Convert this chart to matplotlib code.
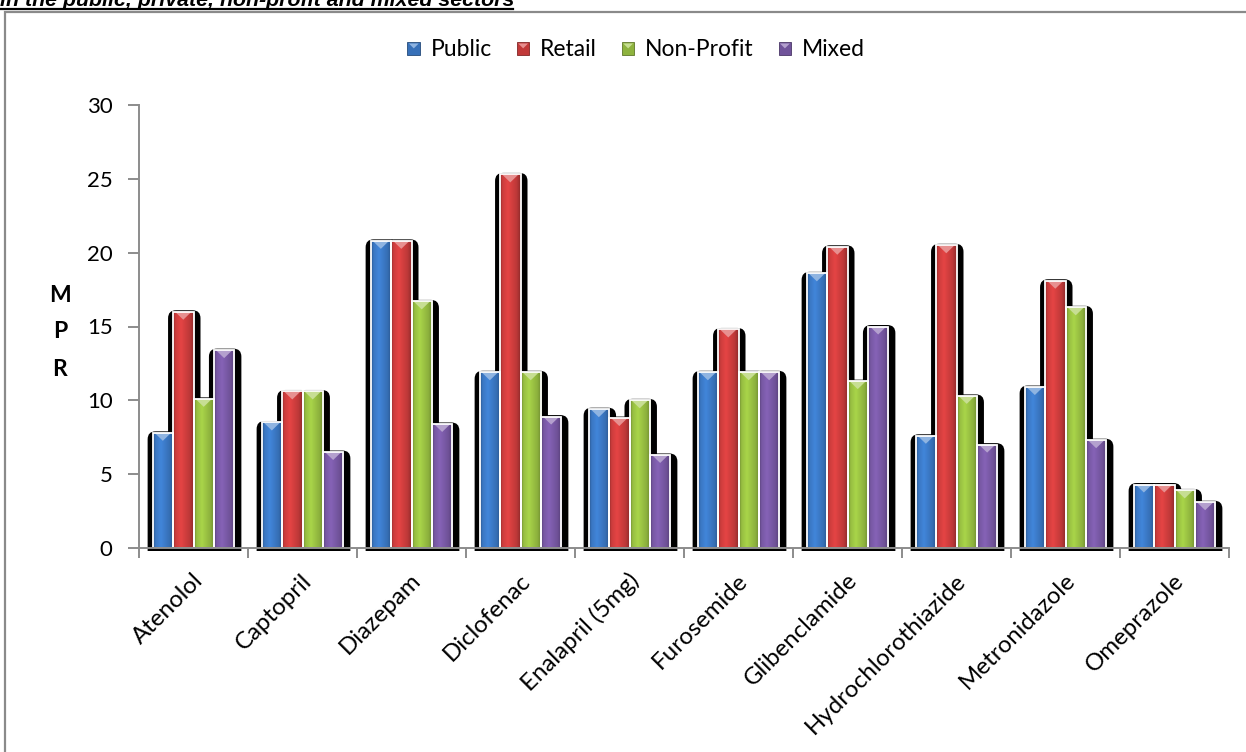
import numpy as np
import matplotlib
matplotlib.use("Agg")
import matplotlib.pyplot as plt
from matplotlib.patches import FancyBboxPatch, Rectangle, Polygon, Patch
from matplotlib.lines import Line2D
from matplotlib.legend_handler import HandlerBase
from matplotlib.transforms import ScaledTranslation

# ---- data -----------------------------------------------------------------
drugs = ["Atenolol", "Captopril", "Diazepam", "Diclofenac", "Enalapril (5mg)",
         "Furosemide", "Glibenclamide", "Hydrochlorothiazide", "Metronidazole",
         "Omeprazole"]
public = [7.8, 8.5, 20.8, 11.9, 9.4, 11.9, 18.6, 7.6, 10.9, 4.3]
retail = [16.0, 10.6, 20.8, 25.3, 8.8, 14.8, 20.4, 20.5, 18.1, 4.3]
non_profit = [10.1, 10.6, 16.7, 11.9, 10.0, 11.9, 11.3, 10.3, 16.3, 3.9]
mixed = [13.4, 6.5, 8.4, 8.9, 6.3, 11.9, 15.0, 7.0, 7.3, 3.1]
sectors = ["Public", "Retail", "Non-Profit", "Mixed"]
y_ticks = [0, 5, 10, 15, 20, 25, 30]
title = "in the public, private, non-profit and mixed sectors"

series = [public, retail, non_profit, mixed]
base_colors = [(0.24, 0.49, 0.80), (0.84, 0.25, 0.25),
               (0.62, 0.78, 0.27), (0.49, 0.36, 0.67)]

FONT = "Lato"
W, H = 1246, 752

fig = plt.figure(figsize=(W / 100, H / 100), dpi=100)
fig.patch.set_facecolor("white")

ax_left, ax_right, ax_top, ax_bottom = 139, 1229, 105, 548
ax = fig.add_axes([ax_left / W, 1 - ax_bottom / H,
                   (ax_right - ax_left) / W, (ax_bottom - ax_top) / H])
ax.set_xlim(-0.5, len(drugs) - 0.5)
ax.set_ylim(0, 30)

px_x = (len(drugs)) / (ax_right - ax_left)   # data x per pixel
px_y = 30 / (ax_bottom - ax_top)             # data y per pixel

group_w = 0.75
bar_w = group_w / len(series)


def shade(rgb, f):
    return tuple(min(1.0, c * f) for c in rgb)


def lighten(rgb, a):
    return tuple(c + (1 - c) * a for c in rgb)


# horizontal shading profile of a bevelled column
prof_x = np.array([0.0, 0.12, 0.38, 0.8, 1.0])
prof_f = np.array([0.68, 0.95, 1.07, 0.88, 0.66])
xs = np.linspace(0, 1, 80)
fac = np.interp(xs, prof_x, prof_f)

shadow_clip = Rectangle((-0.5, -0.18), len(drugs), 40, transform=ax.transData)

# shadows first so that every bar sits above all of them
for si, vals in enumerate(series):
    for ci, v in enumerate(vals):
        x0 = ci - group_w / 2 + si * bar_w
        sx0 = x0 - 5 * px_x
        sw = bar_w + 12 * px_x
        top = v + 1.5 * px_y
        sh = FancyBboxPatch((sx0, -1.0), sw, top + 1.0,
                            boxstyle="round,pad=0,rounding_size=%f" % (8 * px_x),
                            mutation_aspect=px_y / px_x,
                            facecolor="black", edgecolor="none", zorder=2,
                            clip_on=True)
        ax.add_patch(sh)
        sh.set_clip_path(shadow_clip)

for si, vals in enumerate(series):
    col = base_colors[si]
    img = np.array([[shade(col, f) for f in fac]])
    light = lighten(col, 0.42)
    for ci, v in enumerate(vals):
        x0 = ci - group_w / 2 + si * bar_w
        rect = Rectangle((x0, 0), bar_w, v, facecolor="none",
                         edgecolor="white", linewidth=1.3, zorder=5)
        ax.add_patch(rect)
        im = ax.imshow(img, extent=(x0, x0 + bar_w, 0, v), aspect="auto",
                       interpolation="bilinear", zorder=3)
        clip = Rectangle((x0, 0), bar_w, v, transform=ax.transData)
        im.set_clip_path(clip)
        tri = Polygon([(x0 + 2 * px_x, v), (x0 + bar_w - 2 * px_x, v),
                       (x0 + bar_w / 2, v - 8 * px_y)],
                      closed=True, facecolor=light, edgecolor="none", zorder=4)
        ax.add_patch(tri)

ax.set_xlim(-0.5, len(drugs) - 0.5)
ax.set_ylim(0, 30)

# axes styling
axis_grey = "#8C8C8C"
for s in ("top", "right"):
    ax.spines[s].set_visible(False)
for s in ("left", "bottom"):
    ax.spines[s].set_color(axis_grey)
    ax.spines[s].set_linewidth(1.4)
    ax.spines[s].set_zorder(6)

ax.set_yticks(y_ticks)
ax.set_yticklabels([str(t) for t in y_ticks], fontsize=16, family=FONT)
ax.tick_params(axis="y", length=8, width=1.4, color=axis_grey, pad=11)

ax.set_xticks(range(len(drugs)))
ax.set_xticks(np.arange(-0.5, len(drugs)), minor=True)
ax.tick_params(axis="x", which="major", length=0, pad=21)
ax.tick_params(axis="x", which="minor", length=7, width=1.4, color=axis_grey)
ax.set_xticklabels(drugs, rotation=45, ha="right", va="center",
                   rotation_mode="anchor", fontsize=17.3, family=FONT)
for lab in ax.get_xticklabels():
    lab.set_transform(lab.get_transform() +
                      ScaledTranslation(6 / 100, 0, fig.dpi_scale_trans))

# stacked axis title
for letter, ypx in zip("MPR", (295, 331, 370)):
    fig.text(60 / W, 1 - ypx / H, letter, ha="center", va="center",
             fontsize=16.5, fontweight="bold", family=FONT)


# legend with small bevelled squares
class BevelSquare(HandlerBase):
    def __init__(self, color):
        super().__init__()
        self.color = color

    def create_artists(self, legend, orig_handle, xdescent, ydescent,
                       width, height, fontsize, trans):
        s = min(width, height)
        x0 = -xdescent + (width - s) / 2
        y0 = -ydescent + (height - s) / 2
        sq = Rectangle((x0, y0), s, s, facecolor=shade(self.color, 0.9),
                       edgecolor=shade(self.color, 0.6), linewidth=0.6,
                       transform=trans)
        tri = Polygon([(x0 + 1, y0 + s - 1), (x0 + s - 1, y0 + s - 1),
                       (x0 + s / 2, y0 + s * 0.5)], closed=True,
                      facecolor=lighten(self.color, 0.42), edgecolor="none",
                      transform=trans)
        return [sq, tri]


handles = [Patch(facecolor=c) for c in base_colors]
hmap = {h: BevelSquare(c) for h, c in zip(handles, base_colors)}
fig.legend(handles, sectors, handler_map=hmap, loc="center",
           bbox_to_anchor=(636 / W, 1 - 50 / H), ncol=4, frameon=False,
           prop={"family": FONT, "size": 16.5}, handlelength=0.55,
           handleheight=0.55, handletextpad=0.45, columnspacing=1.1)

# outer chart frame
frame = Rectangle((5 / W, -0.2), 1.2, 1.2 - 12 / H, transform=fig.transFigure,
                  facecolor="none", edgecolor="#8A8A8A", linewidth=1.6,
                  clip_on=False)
fig.patches.append(frame)

# heading above the chart, underlined
fig.text(0 / W, 1 - 6 / H, title, ha="left", va="baseline",
         fontsize=15.4, fontweight="bold", fontstyle="italic",
         family="Liberation Sans")
fig.lines.append(Line2D([0, 513 / W], [1 - 9 / H, 1 - 9 / H],
                        transform=fig.transFigure, color="black",
                        linewidth=1.6))

fig.savefig("out.png", dpi=100)
